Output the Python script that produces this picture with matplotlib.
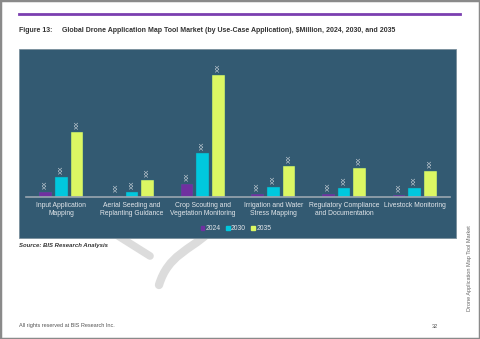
import numpy as np
import matplotlib.pyplot as plt
from matplotlib.patches import Rectangle, PathPatch
from matplotlib.path import Path
from matplotlib.lines import Line2D

plt.rcParams['font.family'] = ['Liberation Sans', 'DejaVu Sans']

# data ($Million, placeholder labels "XX" in source)
categories = ['Input Application\nMapping', 'Aerial Seeding and\nReplanting Guidance',
              'Crop Scouting and\nVegetation Monitoring', 'Irrigation and Water\nStress Mapping',
              'Regulatory Compliance\nand Documentation', 'Livestock Monitoring']
years = ['2024', '2030', '2035']
v2024 = [47, 12, 130, 27, 27, 22]
v2030 = [197, 47, 437, 100, 90, 84]
v2035 = [647, 167, 1217, 307, 284, 257]

W, H = 480, 339
def fx(x): return x / W
def fy(y): return 1 - y / H

panel_col = '#335a72'
colors = ['#7030a0', '#00c8de', '#dcf763']

fig = plt.figure(figsize=(4.8, 3.39), dpi=100)
fig.patch.set_facecolor('white')

# page border
fig.add_artist(Rectangle((0, 0), 1, 1, transform=fig.transFigure, fill=False,
                         edgecolor='#8a8a8a', linewidth=2.5))
# watermark swirl (mostly hidden behind the panel)
wm = '#dcdcdc'
fig.add_artist(Line2D([fx(115), fx(150)], [fy(234), fy(256)], transform=fig.transFigure,
                      color=wm, linewidth=5.5, solid_capstyle='round', zorder=0))
verts = [(fx(207), fy(234)), (fx(190), fy(250)), (fx(168), fy(255)), (fx(159), fy(285))]
codes = [Path.MOVETO, Path.CURVE4, Path.CURVE4, Path.CURVE4]
fig.add_artist(PathPatch(Path(verts, codes), transform=fig.transFigure, fill=False,
                         edgecolor=wm, linewidth=6, capstyle='round', zorder=0))

# purple rule at top
fig.add_artist(Line2D([fx(19), fx(460)], [fy(13.5), fy(13.5)], transform=fig.transFigure,
                      color='#7b3fb0', linewidth=2))
fig.text(fx(19), fy(30), 'Figure 13:', fontsize=5, fontweight='bold', color='#333333', va='center')
fig.text(fx(62), fy(30), 'Global Drone Application Map Tool Market (by Use-Case Application), $Million, 2024, 2030, and 2035',
         fontsize=5, fontweight='bold', color='#333333', va='center')

# chart panel
fig.add_artist(Rectangle((fx(19), fy(238)), fx(456) - fx(19), fy(49) - fy(238),
                         transform=fig.transFigure, facecolor=panel_col,
                         edgecolor='#7a8f9c', linewidth=0.6, zorder=1))

ax = fig.add_axes([fx(26), fy(196.7), fx(450) - fx(26), fy(60) - fy(196.7)])
ax.set_facecolor('none')
ax.set_zorder(2)
x = np.arange(len(categories))
width = 0.18
offs = [-0.22, 0, 0.22]
for i, (vals, c) in enumerate(zip([v2024, v2030, v2035], colors)):
    bars = ax.bar(x + offs[i], vals, width, color=c, edgecolor='#2e6f80', linewidth=0.3,
                  label=years[i])
    for b in bars:
        ax.text(b.get_x() + b.get_width() / 2, b.get_height() + 30, 'XX', rotation=90,
                ha='center', va='bottom', fontsize=4.6, color='#d8dde2')
ax.set_xlim(-0.5, 5.5)
ax.set_ylim(0, 1367)
for s in ['top', 'right', 'left']:
    ax.spines[s].set_visible(False)
ax.spines['bottom'].set_color('#9aa6b0')
ax.spines['bottom'].set_linewidth(1.2)
ax.set_yticks([])
ax.set_xticks(x)
ax.set_xticklabels(categories, fontsize=4.9, color='#e2e6ea', linespacing=1.25)
ax.tick_params(axis='x', length=0, pad=3.5)

handles = [Rectangle((0, 0), 1, 1, color=c) for c in colors]
leg = fig.legend(handles, years, loc='center', bbox_to_anchor=(fx(236), fy(229)), ncol=3,
                 fontsize=4.9, frameon=False, handlelength=0.5, handleheight=0.5,
                 handletextpad=0.2, columnspacing=0.8, labelcolor='#e2e6ea')
leg.set_zorder(3)

fig.text(fx(19), fy(245), 'Source: BIS Research Analysis', fontsize=4.3, fontweight='bold',
         style='italic', color='#333333', va='center')
fig.text(fx(19), fy(326), 'All rights reserved at BIS Research Inc.', fontsize=4, color='#555555', va='center')
fig.text(fx(432), fy(326), '32', fontsize=4, color='#555555', va='center')
fig.text(fx(470), fy(268), 'Drone Application Map Tool Market', fontsize=4, color='#666666',
         rotation=90, ha='center', va='center')

fig.savefig('out.png', dpi=100)
